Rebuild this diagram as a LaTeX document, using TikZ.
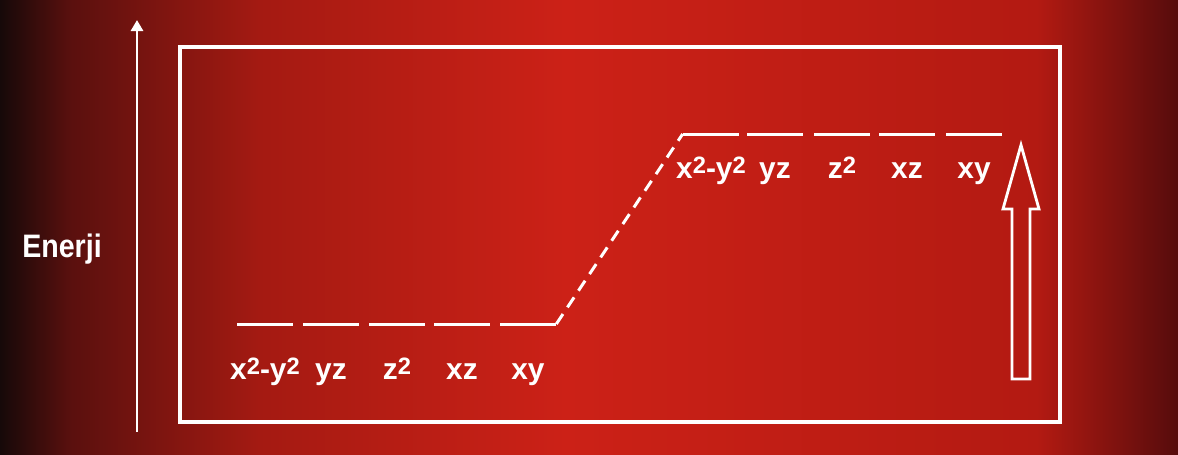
\documentclass[tikz,border=0pt]{standalone}
\usepackage{fontspec}
\setmainfont{Liberation Sans}
\newfontfamily\narrowsans[FakeStretch=0.88]{Liberation Sans}
\usetikzlibrary{arrows.meta,positioning,calc}
\definecolor{screenBlack}{HTML}{160909}
\definecolor{screenDeep}{HTML}{5A100E}
\definecolor{screenMid}{HTML}{A41A12}
\definecolor{screenRed}{HTML}{CC2117}
\definecolor{screenWarm}{HTML}{B31A12}
\definecolor{screenEdge}{HTML}{560C0C}
\pgfdeclarehorizontalshading{screenglow}{100bp}{color(0bp)=(screenBlack); color(25bp)=(screenBlack); color(28bp)=(screenDeep); color(36bp)=(screenMid); color(49bp)=(screenRed); color(69bp)=(screenWarm); color(75bp)=(screenEdge); color(100bp)=(screenEdge)}
\newcommand{\sqtwo}{\raisebox{0.32ex}{\fontsize{13.5}{14}\selectfont 2}}

\begin{document}
\begin{tikzpicture}[x=0.02cm,y=-0.02cm,
    font=\fontsize{17}{20}\selectfont\bfseries,
    every node/.style={text=white},
    lvl/.style={fill=white,inner sep=0pt,minimum width=1.12cm,minimum height=0.06cm},
    orb/.style={anchor=base,inner sep=0pt},
    frame/.style={draw=white,line width=1.8pt},
    axis/.style={draw=white,line width=1.6pt,-{Triangle[length=0.22cm,width=0.24cm]}},
    hollow/.style={draw=white,line width=1.6pt,line join=miter},
    jump/.style={draw=white,line width=1.7pt,dash pattern=on 0.24cm off 0.16cm}]

  \useasboundingbox (0,0) rectangle (1178,454);
  \shade[shading=screenglow] (0,0) rectangle (1178,454);

  % energy axis
  \coordinate (axbot) at (137,432);
  \coordinate (axtop) at (137,20);
  \draw[axis] (axbot) -- (axtop);
  \node[anchor=base,font=\fontsize{18.5}{22}\selectfont\narrowsans\bfseries] (enerji) at (62,257) {Enerji};

  \draw[frame] (180,47) rectangle (1060,422);

  % lower set
  \node[lvl] (l1) at (265,324) {};
  \node[lvl] (l2) at (331,324) {};
  \node[lvl] (l3) at (397,324) {};
  \node[lvl] (l4) at (462,324) {};
  \node[lvl] (l5) at (528,324) {};
  \node[orb,below=1.12cm of l1.center,anchor=base] (a1) {x\sqtwo-y\sqtwo};
  \node[orb,below=1.12cm of l2.center,anchor=base] (a2) {yz};
  \node[orb,below=1.12cm of l3.center,anchor=base] (a3) {z\sqtwo};
  \node[orb,below=1.12cm of l4.center,anchor=base] (a4) {xz};
  \node[orb,below=1.12cm of l5.center,anchor=base] (a5) {xy};

  % upper set
  \node[lvl] (u1) at (711,134) {};
  \node[lvl] (u2) at (775,134) {};
  \node[lvl] (u3) at (842,134) {};
  \node[lvl] (u4) at (907,134) {};
  \node[lvl] (u5) at (974,134) {};
  \node[orb,below=0.9cm of u1.center,anchor=base] (b1) {x\sqtwo-y\sqtwo};
  \node[orb,below=0.9cm of u2.center,anchor=base] (b2) {yz};
  \node[orb,below=0.9cm of u3.center,anchor=base] (b3) {z\sqtwo};
  \node[orb,below=0.9cm of u4.center,anchor=base] (b4) {xz};
  \node[orb,below=0.9cm of u5.center,anchor=base] (b5) {xy};

  \draw[jump] (l5.east) -- (u1.west);

  % big arrow
  \draw[hollow] (1012,379) -- (1012,209) -- (1003,209) -- (1021,145)
    -- (1039,209) -- (1030,209) -- (1030,379) -- cycle;
\end{tikzpicture}
\end{document}
